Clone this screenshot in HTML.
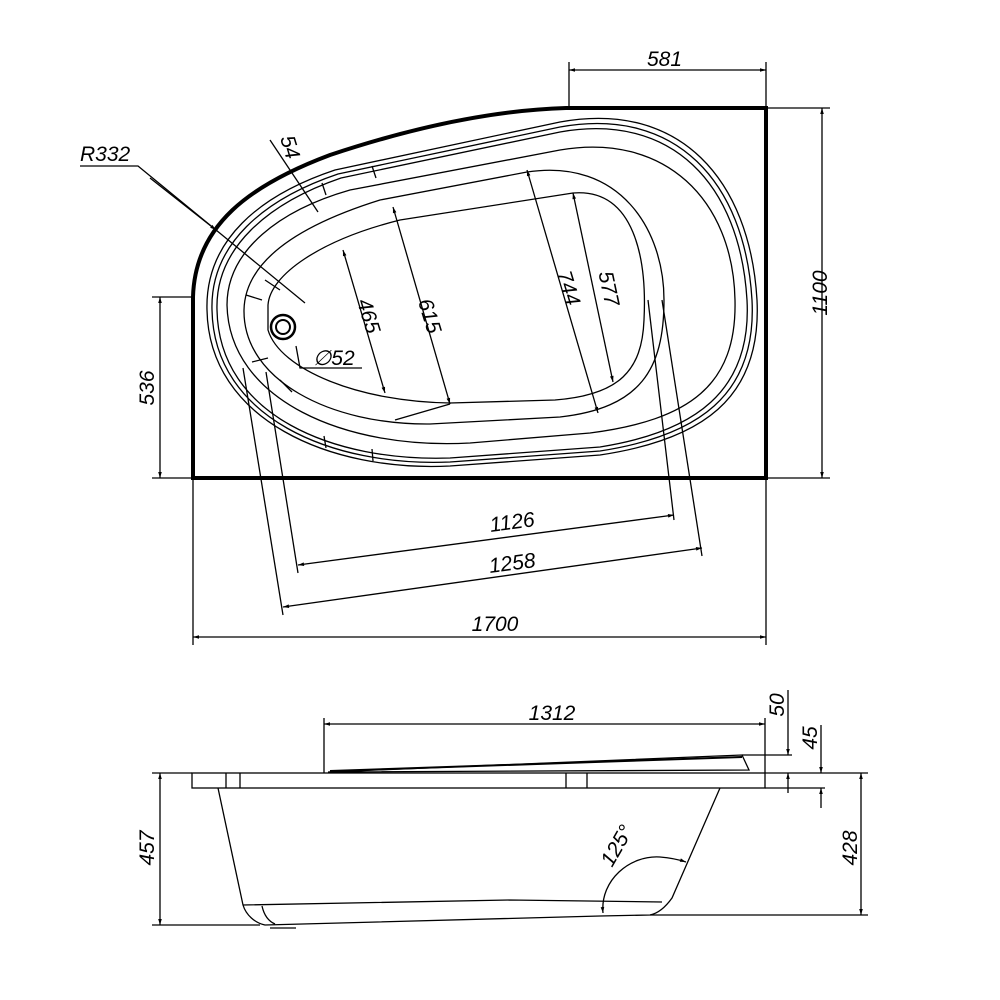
<!DOCTYPE html>
<html><head><meta charset="utf-8"><style>
html,body{margin:0;padding:0;background:#fff}
svg{display:block}
text{font-family:"Liberation Sans",sans-serif;font-style:italic;font-size:21px;fill:#000}
</style></head><body>
<svg width="1000" height="1000" viewBox="0 0 1000 1000" xmlns="http://www.w3.org/2000/svg">
<defs>
<marker id="a" viewBox="0 0 10 10" refX="10" refY="5" markerWidth="9" markerHeight="6" orient="auto-start-reverse" markerUnits="userSpaceOnUse"><path d="M0,2 L10,5 L0,8 Z" fill="#000"/></marker>
</defs>
<g fill="none" stroke="#000" stroke-width="1.3">
<path d="M193,478 L193,297 C195,225 250,185 330,155 C420,125 500,110 566,108 L766,108 L766,478 Z" stroke-width="4"/>
<path d="M207,310 C205,240 260,195 335,170 L 560,122 C 680,100 750,180 757,300 C 762,400 700,440 600,455 L 450,466 C 330,472 209,420 207,310 Z"/>
<path d="M212,310 C210,244 264,199 338,174 L 560,127 C 676,106 745,182 752,300 C 757,396 697,436 600,451 L 450,462 C 332,467 214,418 212,310 Z"/>
<path d="M217,310 C215,248 268,203 341,178 L 560,132 C 672,112 740,184 747,300 C 752,392 694,432 600,447 L 450,458 C 334,462 219,416 217,310 Z"/>
<path d="M227,305 C227,250 280,210 350,190 L 560,150 C 665,132 733,200 735,300 C 737,385 690,420 590,433 L 470,443 C 345,450 229,400 227,305 Z"/>
<path d="M244,310 C245,260 300,225 380,200 L 527,172 C 620,158 664,230 664,300 C 664,370 640,408 560,417 L 430,424 C 330,425 243,380 244,310 Z"/>
<path d="M268,305 C270,275 320,240 400,220 L 573,193 C 635,188 647,260 644,320 C 642,370 620,395 555,400 L 450,403 C 360,402 280,370 268,330 Z"/>
<path d="M322,183 L326,195 M372,166 L376,178 M324,436 L326,448 M372,449 L373,461 M246,295 L262,300 M252,362 L268,358 M265,280 L280,290 M280,380 L292,392"/>
<circle cx="283" cy="327" r="12" stroke-width="2.5"/>
<circle cx="283" cy="327" r="7" stroke-width="2"/>
<path d="M569,108 L569,62 M766,108 L766,62"/>
<path d="M569,70 L766,70" marker-start="url(#a)" marker-end="url(#a)"/>
<path d="M766,108 L830,108 M766,478 L830,478"/>
<path d="M822,108 L822,478" marker-start="url(#a)" marker-end="url(#a)"/>
<path d="M193,297 L152,297 M193,478 L152,478"/>
<path d="M160,297 L160,478" marker-start="url(#a)" marker-end="url(#a)"/>
<path d="M193,478 L193,645 M766,478 L766,645"/>
<path d="M193,637 L766,637" marker-start="url(#a)" marker-end="url(#a)"/>
<path d="M243,368 L283,615 M266,372 L298,573 M648,300 L674,520 M662,300 L702,556"/>
<path d="M298,565 L674,515" marker-start="url(#a)" marker-end="url(#a)"/>
<path d="M283,607 L702,548" marker-start="url(#a)" marker-end="url(#a)"/>
<path d="M343,250 L385,393" marker-start="url(#a)" marker-end="url(#a)"/>
<path d="M393,207 L450,404" marker-start="url(#a)" marker-end="url(#a)"/>
<path d="M527,170 L598,413" marker-start="url(#a)" marker-end="url(#a)"/>
<path d="M573,193 L613,382" marker-start="url(#a)" marker-end="url(#a)"/>
<path d="M395,420 L450,404"/>
<path d="M80,166 L138,166 L305,303"/>
<path d="M150,178 L216,230" marker-end="url(#a)"/>
<path d="M270,140 L318,212"/>
<path d="M296,346 L300,368 L362,368"/>
<rect x="192" y="773" width="573" height="15"/>
<path d="M226,773 L226,788 M240,773 L240,788 M566,773 L566,788 M587,773 L587,788"/>
<path d="M328,772 L742,755 L749,770 L330,772" />
<path d="M330,771 L742,757" stroke-width="2"/>
<path d="M218,788 L243,905 C246,915 255,923 265,925 L600,916 L650,915 C660,913 667,905 672,898 L720,788"/>
<path d="M243,905 L510,900 L662,902"/>
<path d="M262,906 C264,915 268,921 275,924"/>
<path d="M270,928 L296,928"/>
<path d="M324,773 L324,718 M765,773 L765,718"/>
<path d="M324,724 L765,724" marker-start="url(#a)" marker-end="url(#a)"/>
<path d="M742,755 L792,755 M765,788 L825,788 M765,773 L868,773"/>
<path d="M788,690 L788,755" marker-end="url(#a)"/>
<path d="M788,793 L788,773" marker-end="url(#a)"/>
<path d="M821,725 L821,773" marker-end="url(#a)"/>
<path d="M821,808 L821,788" marker-end="url(#a)"/>
<path d="M861,773 L861,915" marker-start="url(#a)" marker-end="url(#a)"/>
<path d="M650,915 L868,915"/>
<path d="M192,773 L152,773 M260,925 L152,925"/>
<path d="M160,773 L160,925" marker-start="url(#a)" marker-end="url(#a)"/>
<path d="M603,913 C600,880 630,855 660,857 C672,858 680,860 686,862" marker-start="url(#a)" marker-end="url(#a)"/>
</g>
<text x="647" y="66">581</text>
<text transform="translate(827,293) rotate(-90)" text-anchor="middle">1100</text>
<text transform="translate(154,388) rotate(-90)" text-anchor="middle">536</text>
<text x="495" y="631" text-anchor="middle">1700</text>
<text transform="translate(513,529) rotate(-7.5)" text-anchor="middle">1126</text>
<text transform="translate(513,570) rotate(-7.5)" text-anchor="middle">1258</text>
<text x="80" y="161">R332</text>
<text transform="translate(280,138) rotate(73)">54</text>
<text x="313" y="365">∅52</text>
<text transform="translate(362,318) rotate(73)" text-anchor="middle">465</text>
<text transform="translate(423,318) rotate(73)" text-anchor="middle">615</text>
<text transform="translate(562,290) rotate(73)" text-anchor="middle">744</text>
<text transform="translate(602,290) rotate(78)" text-anchor="middle">577</text>
<text x="552" y="720" text-anchor="middle">1312</text>
<text transform="translate(784,705) rotate(-90)" text-anchor="middle">50</text>
<text transform="translate(817,738) rotate(-90)" text-anchor="middle">45</text>
<text transform="translate(857,848) rotate(-90)" text-anchor="middle">428</text>
<text transform="translate(154,848) rotate(-90)" text-anchor="middle">457</text>
<text transform="translate(612,868) rotate(-60)">125°</text>
</svg>
</body></html>
